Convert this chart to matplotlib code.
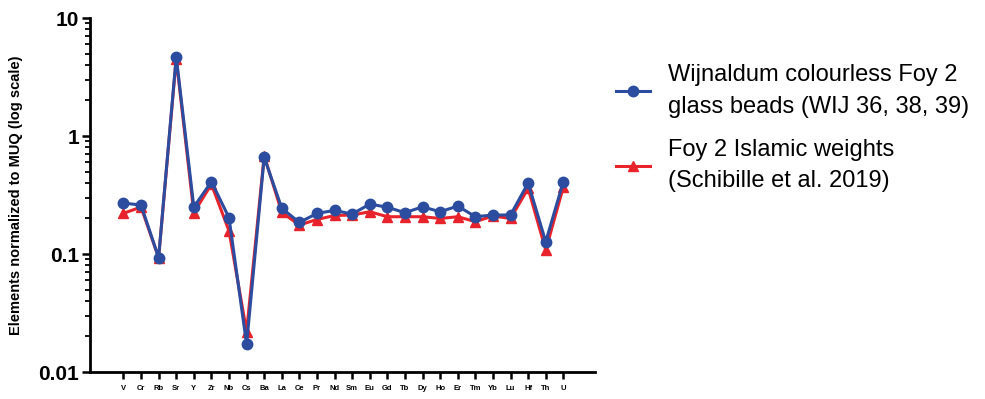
import matplotlib
matplotlib.use("Agg")
import matplotlib.pyplot as plt
from matplotlib.ticker import LogLocator, NullFormatter, FixedLocator

plt.rcParams['font.family'] = ['Liberation Sans', 'DejaVu Sans']

elements = ["V", "Cr", "Rb", "Sr", "Y", "Zr", "Nb", "Cs", "Ba", "La", "Ce", "Pr", "Nd",
            "Sm", "Eu", "Gd", "Tb", "Dy", "Ho", "Er", "Tm", "Yb", "Lu", "Hf", "Th", "U"]
wijnaldum = [0.27, 0.26, 0.093, 4.7, 0.25, 0.41, 0.203, 0.0172, 0.66, 0.244, 0.185, 0.221, 0.234,
             0.218, 0.265, 0.249, 0.224, 0.251, 0.228, 0.255, 0.207, 0.214, 0.214, 0.40, 0.127, 0.41]
foy2_weights = [0.221, 0.25, 0.093, 4.5, 0.224, 0.39, 0.157, 0.022, 0.68, 0.225, 0.176, 0.196, 0.212,
                0.214, 0.228, 0.207, 0.207, 0.207, 0.20, 0.207, 0.188, 0.21, 0.20, 0.36, 0.108, 0.37]
labels = ["Wijnaldum colourless Foy 2\nglass beads (WIJ 36, 38, 39)",
          "Foy 2 Islamic weights\n(Schibille et al. 2019)"]

blue = "#2B4C9F"
red = "#E8232B"

fig = plt.figure(figsize=(9.85, 3.99), dpi=100)
ax = fig.add_axes([90/985, 27/399, 505/985, 354/399])

x = list(range(len(elements)))
l2, = ax.plot(x, foy2_weights, color=red, lw=2.2, marker="^", ms=7, zorder=2)
l1, = ax.plot(x, wijnaldum, color=blue, lw=2.2, marker="o", ms=7.5, zorder=3)

ax.set_yscale("log")
ax.set_ylim(0.01, 10)
ax.set_xlim(-1.9, 26.8)
ax.yaxis.set_major_locator(FixedLocator([0.01, 0.1, 1, 10]))
ax.set_yticklabels(["0.01", "0.1", "1", "10"], fontsize=15, fontweight="bold")
ax.yaxis.set_minor_locator(LogLocator(base=10, subs=range(2, 10)))
ax.yaxis.set_minor_formatter(NullFormatter())
ax.set_xticks(x)
ax.set_xticklabels(elements, fontsize=5.5, fontweight="bold")
ax.tick_params(axis="y", which="major", length=6, width=1.8, direction="out", pad=2)
ax.tick_params(axis="y", which="minor", length=3.5, width=1.3, direction="out")
ax.tick_params(axis="x", which="major", length=5, width=1.8, direction="out", pad=4)

for s in ["top", "right"]:
    ax.spines[s].set_visible(False)
for s in ["left", "bottom"]:
    ax.spines[s].set_linewidth(2)

ax.set_ylabel("Elements normalized to MUQ (log scale)", fontsize=10.5, fontweight="bold", labelpad=4)
ax.yaxis.set_label_coords(-67/505, 0.5)

leg = fig.legend([l1, l2], labels, loc="upper left", bbox_to_anchor=(607/985, 1 - 55/399),
                 frameon=False, fontsize=17, handlelength=1.4, handletextpad=0.8,
                 labelspacing=0.9, borderaxespad=0)
for t in leg.get_texts():
    t.set_linespacing(1.55)

fig.savefig("out.png", dpi=100)
